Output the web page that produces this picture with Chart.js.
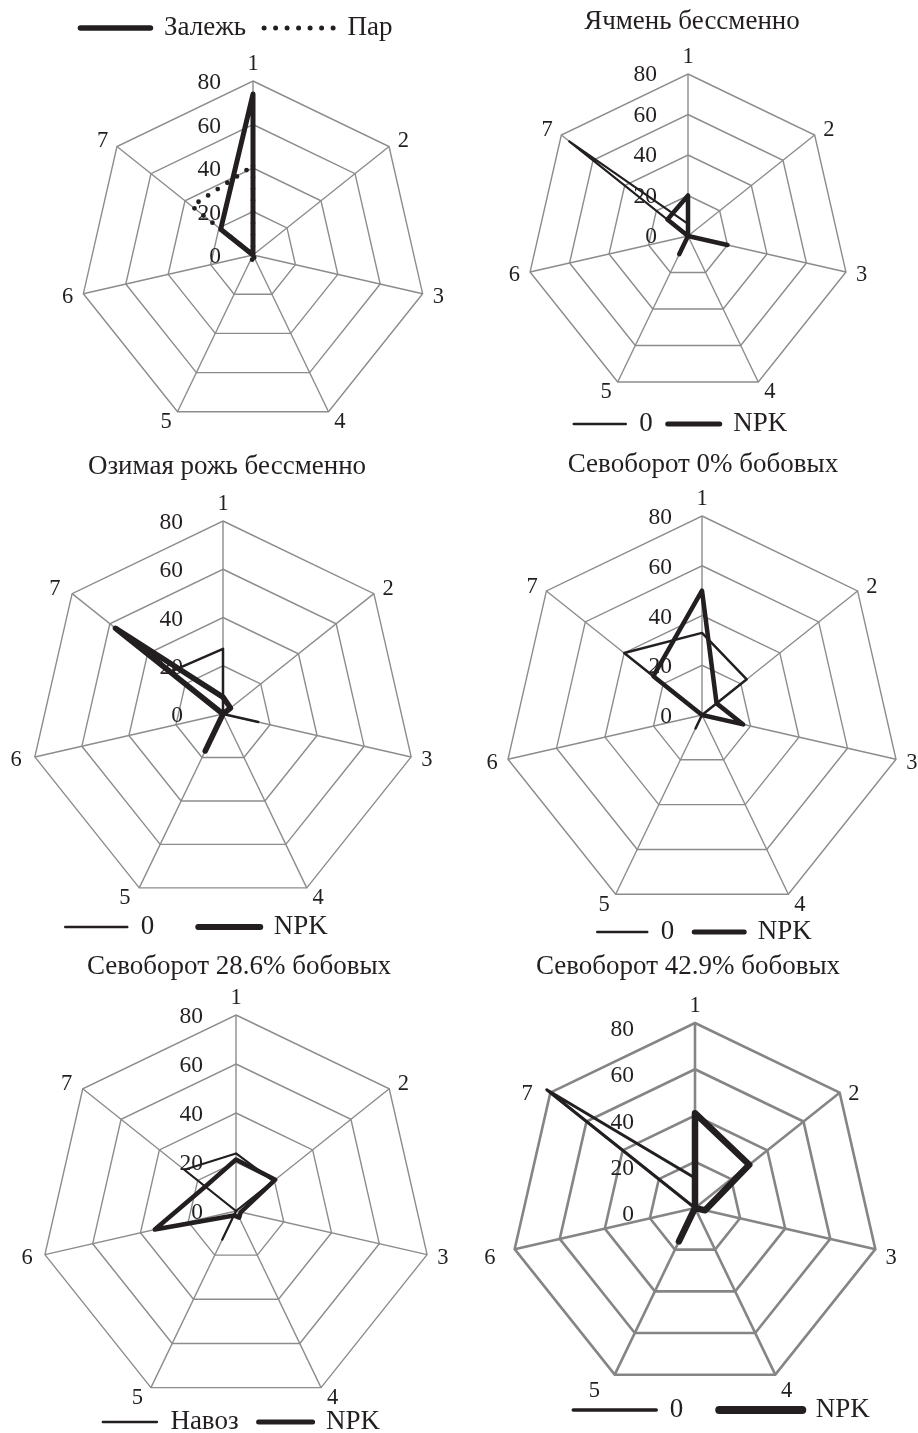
<!DOCTYPE html>
<html>
<head>
<meta charset="utf-8">
<script src="https://cdn.jsdelivr.net/npm/chart.js@4.4.1/dist/chart.umd.min.js"></script>
<style>
  html, body { margin: 0; padding: 0; background: #fff; overflow: hidden; }
  #page { position: relative; width: 918px; height: 1433px; overflow: hidden; }
  canvas { position: absolute; }
  .ttl { position: absolute; width: 400px; text-align: center; font-family: "Liberation Serif", "Times New Roman", serif;
         font-size: 27px; line-height: 27px; color: #231f20; white-space: nowrap; }
</style>
</head>
<body>
<div id="page"></div>
<script>
// ---------- data ----------
const categories = ['1', '2', '3', '4', '5', '6', '7'];
const tickLabels = ['0', '20', '40', '60', '80'];

const zalezh = [74, 0, 0, 0, 0, 0, 19];
const par = [41, 0, 0, 4, 2, 0, 36];

const barley0 = [6, 0, 0, 0, 0, 0, 75];
const barleyNPK = [20, 0, 20, 0, 10, 0, 13];

const rye0 = [27, 0, 15, 0, 0, 0, 28];
const ryeNPK = [7, 4, 0, 0, 17, 0, 57];

const rot0_0 = [33, 23, 0, 0, 6, 0, 40];
const rot0_NPK = [50, 7.5, 17, 0, 0, 0, 25];

const rot28_manure = [23.5, 19.5, 0, 0, 13, 0, 27];
const rot28_NPK = [21, 20.5, 2, 3, 2, 34, 16];

const rot42_0 = [13, 0, 0, 0, 0, 0, 82];
const rot42_NPK = [41, 30, 4.5, 0, 16, 0, 0];

const titles = ['', 'Ячмень бессменно', 'Озимая рожь бессменно', 'Севоборот 0% бобовых',
                'Севоборот 28.6% бобовых', 'Севоборот 42.9% бобовых'];

// ---------- styling / layout ----------
const INK = '#231f20';
const FONT = '"Liberation Serif", "Times New Roman", serif';

const panels = [
  { left: 0, top: -10, w: 459, h: 455, cx: 253, cy: 255, R: 174, grid: '#8c8c8c', gridW: 1.4,
    legendPos: 'top', legendY: 28, legendCX: 236.5, legendPad: 18, legendBox: 70,
    tickGap: 32, tickDy: 2, labelDy: 0, leftExtra: 0,
    series: [
      { label: 'Залежь', data: zalezh, width: 5, dash: [], legW: 5.5 },
      { label: 'Пар', data: par, width: 4.8, dash: [0, 11.5], legW: 5 }
    ] },
  { left: 459, top: 0, w: 459, h: 450, cx: 688, cy: 236, R: 162, grid: '#8c8c8c', gridW: 1.4,
    legendPos: 'bottom', legendY: 424, legendCX: 680.5, legendPad: 15, legendBox: 52,
    tickGap: 31, tickDy: 1, labelDy: 0, leftExtra: 0, title: 1, titleX: 692, titleBase: 30,
    series: [
      { label: '0', data: barley0, width: 2.2, dash: [], legW: 2.5 },
      { label: 'NPK', data: barleyNPK, width: 4.5, dash: [], legW: 5 }
    ] },
  { left: 0, top: 440, w: 459, h: 515, cx: 223, cy: 714, R: 193, grid: '#8c8c8c', gridW: 1.4,
    legendPos: 'bottom', legendY: 927, legendCX: 196.5, legendPad: 44, legendBox: 62,
    tickGap: 40, tickDy: 2, labelDy: 0, leftExtra: 3, title: 2, titleX: 227, titleBase: 475,
    series: [
      { label: '0', data: rye0, width: 2.5, dash: [], legW: 2.5 },
      { label: 'NPK', data: ryeNPK, width: 5.5, dash: [], legW: 6 }
    ] },
  { left: 459, top: 440, w: 459, h: 515, cx: 702, cy: 715, R: 199, grid: '#8c8c8c', gridW: 1.4,
    legendPos: 'bottom', legendY: 932, legendCX: 704.5, legendPad: 20, legendBox: 50,
    tickGap: 30, tickDy: 2, labelDy: 1, leftExtra: 0, title: 3, titleX: 703, titleBase: 473,
    series: [
      { label: '0', data: rot0_0, width: 2.5, dash: [], legW: 2.5 },
      { label: 'NPK', data: rot0_NPK, width: 4.5, dash: [], legW: 5 }
    ] },
  { left: 0, top: 940, w: 459, h: 505, cx: 236, cy: 1211, R: 196, grid: '#8c8c8c', gridW: 1.4,
    legendPos: 'bottom', legendY: 1422, legendCX: 241.5, legendPad: 20, legendBox: 54,
    tickGap: 33, tickDy: 2, labelDy: 0, leftExtra: 2, title: 4, titleX: 239, titleBase: 975,
    series: [
      { label: 'Навоз', data: rot28_manure, width: 2.2, dash: [], legW: 2.5 },
      { label: 'NPK', data: rot28_NPK, width: 4.5, dash: [], legW: 5 }
    ] },
  { left: 459, top: 940, w: 459, h: 495, cx: 695, cy: 1208, R: 185, grid: '#858585', gridW: 2.6,
    legendPos: 'bottom', legendY: 1410, legendCX: 721.5, legendPad: 36, legendBox: 83,
    tickGap: 61, tickDy: 7, labelDy: 6, leftExtra: 9, title: 5, titleX: 688, titleBase: 975,
    series: [
      { label: '0', data: rot42_0, width: 3, dash: [], legW: 3.5 },
      { label: 'NPK', data: rot42_NPK, width: 6.5, dash: [], legW: 8 }
    ] }
];

const LEGEND_FS = 27, TICK_FS = 23.5, LABEL_FS = 22.5;

// plugin: tick labels beside axis 1 and category labels around the web
const radarText = {
  id: 'radarText',
  beforeDatasetsDraw(chart, args, o) {
    const s = chart.scales.r;
    const ctx = chart.ctx;
    ctx.save();
    ctx.fillStyle = INK;
    ctx.font = TICK_FS + 'px ' + FONT;
    ctx.textAlign = 'right';
    ctx.textBaseline = 'middle';
    s.ticks.forEach((t, k) => {
      const p = s.getPointPosition(0, s.getDistanceFromCenterForValue(t.value));
      ctx.fillText(tickLabels[k], p.x - o.tickGap, p.y + o.tickDy);
    });
    ctx.font = LABEL_FS + 'px ' + FONT;
    ctx.textAlign = 'center';
    categories.forEach((c, i) => {
      const p = s.getPointPosition(i, s.drawingArea);
      const ux = (p.x - s.xCenter) / s.drawingArea;
      const uy = (p.y - s.yCenter) / s.drawingArea;
      let dx = Math.abs(ux) < 0.01 ? 0 : Math.sign(ux) * (Math.abs(ux) * 8 + 8);
      if (ux < -0.01) dx -= o.leftExtra;
      let dy = uy < -0.99 ? -17 : (uy < 0 ? uy * 8 : uy * 10 + 1);
      if (uy > -0.99) dy += o.labelDy;
      ctx.fillText(c, p.x + dx, p.y + dy);
    });
    ctx.restore();
  }
};
Chart.register(radarText);

const page = document.getElementById('page');

panels.forEach((P) => {
  const cv = document.createElement('canvas');
  cv.width = P.w; cv.height = P.h;
  cv.style.left = P.left + 'px'; cv.style.top = P.top + 'px';
  cv.style.width = P.w + 'px'; cv.style.height = P.h + 'px';
  page.appendChild(cv);

  if (P.title !== undefined) {
    const d = document.createElement('div');
    d.className = 'ttl';
    d.textContent = titles[P.title];
    d.style.left = (P.titleX - 200) + 'px';
    d.style.top = (P.titleBase - 22.6) + 'px';
    page.appendChild(d);
  }

  const cxC = P.cx - P.left, cyC = P.cy - P.top;
  const shift = 2 * ((P.legendCX - P.left) - P.w / 2);
  const pad = { left: Math.max(0, shift), right: Math.max(0, -shift), top: 0, bottom: 0 };
  const legY = P.legendY - P.top;
  if (P.legendPos === 'top') pad.top = legY - P.legendPad - LEGEND_FS / 2;
  else pad.bottom = P.h - LEGEND_FS / 2 - 10 - legY;

  new Chart(cv, {
    type: 'radar',
    data: {
      labels: categories,
      datasets: P.series.map((s) => ({
        label: s.label,
        data: s.data,
        borderColor: INK,
        backgroundColor: INK,
        borderWidth: s.width,
        borderDash: s.dash,
        borderCapStyle: 'round',
        borderJoinStyle: 'round',
        fill: false,
        tension: 0,
        pointRadius: 0,
        pointHitRadius: 0,
        clip: false
      }))
    },
    options: {
      responsive: false,
      animation: false,
      events: [],
      devicePixelRatio: 1,
      layout: { padding: pad },
      scales: {
        r: {
          min: 0, max: 80,
          ticks: { stepSize: 20, display: false },
          grid: { color: P.grid, lineWidth: P.gridW },
          angleLines: { color: P.grid, lineWidth: P.gridW },
          pointLabels: { display: false },
          afterFit: (scale) => {
            scale.xCenter = cxC;
            scale.yCenter = cyC;
            scale.drawingArea = P.R;
          }
        }
      },
      plugins: {
        tooltip: { enabled: false },
        title: { display: false },
        legend: {
          display: true,
          position: P.legendPos,
          labels: {
            usePointStyle: true,
            pointStyle: 'line',
            pointStyleWidth: P.legendBox,
            padding: P.legendPad,
            color: INK,
            font: { family: FONT, size: LEGEND_FS },
            generateLabels: (chart) => {
              const items = Chart.defaults.plugins.legend.labels.generateLabels(chart);
              items.forEach((it, i) => {
                const s = P.series[i];
                it.lineWidth = s.legW;
                it.lineDash = s.dash;
                it.lineCap = 'round';
                it.strokeStyle = INK;
                it.fillStyle = INK;
                it.pointStyle = 'line';
              });
              return items;
            }
          }
        },
        radarText: { tickGap: P.tickGap, tickDy: P.tickDy, labelDy: P.labelDy, leftExtra: P.leftExtra }
      }
    }
  });
});
</script>
</body>
</html>
